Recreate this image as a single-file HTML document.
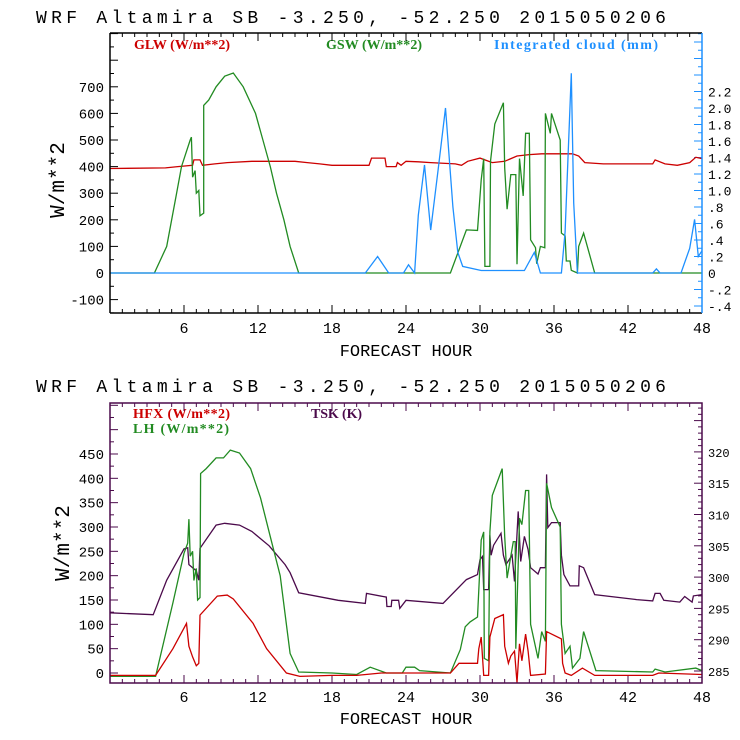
<!DOCTYPE html>
<html><head><meta charset="utf-8"><style>
html,body{margin:0;padding:0;background:#fff}
svg{display:block}
text{font-family:"Liberation Mono",monospace}
.lg{font-family:"Liberation Serif",serif;font-weight:bold;font-size:14px}
</style></head><body>
<svg id="c" width="740" height="740" viewBox="0 0 740 740" xmlns="http://www.w3.org/2000/svg">
<text x="36" y="23" font-size="18" font-weight="normal" textLength="630">WRF  Altamira  SB  -3.250, -52.250  2015050206</text>
<text x="36" y="392" font-size="18" font-weight="normal" textLength="630">WRF  Altamira  SB  -3.250, -52.250  2015050206</text>
<text class="lg" x="134" y="49" fill="#cc0000" textLength="96">GLW (W/m**2)</text>
<text class="lg" x="326" y="49" fill="#228b22" textLength="96">GSW (W/m**2)</text>
<text class="lg" x="494" y="49" fill="#1e90ff" textLength="164">Integrated cloud (mm)</text>
<text class="lg" x="133" y="418" fill="#cc0000" textLength="97">HFX (W/m**2)</text>
<text class="lg" x="133" y="433" fill="#228b22" textLength="96">LH  (W/m**2)</text>
<text class="lg" x="311" y="418" fill="#4b0a4b" textLength="51">TSK (K)</text>
<text x="406" y="356" font-size="17" text-anchor="middle">FORECAST HOUR</text>
<text x="406" y="724" font-size="17" text-anchor="middle">FORECAST HOUR</text>
<text transform="translate(64,180) rotate(-90)" font-size="21" text-anchor="middle">W/m**2</text>
<text transform="translate(69,543) rotate(-90)" font-size="21" text-anchor="middle">W/m**2</text>
<g id="g"></g>
</svg>
<script>
// ---- data ----
const xTicks=[6,12,18,24,30,36,42,48];
const topLeftTicks=[-100,0,100,200,300,400,500,600,700];
const topRightTicks=[-0.4,-0.2,0,0.2,0.4,0.6,0.8,1.0,1.2,1.4,1.6,1.8,2.0,2.2];
const topRightLabels=["-.4","-.2","0",".2",".4",".6",".8","1.0","1.2","1.4","1.6","1.8","2.0","2.2"];
const botLeftTicks=[0,50,100,150,200,250,300,350,400,450];
const botRightTicks=[285,290,295,300,305,310,315,320];

const glwHours=[0,4.5,5.5,6.7,6.8,7.3,7.5,8.5,9.5,11.5,15,16,17,18,21,21.2,22.3,22.4,23.2,23.3,23.6,24,25,26,28,28.5,29,30,31,32,33,34,35,37.5,38,38.5,40,44,44.2,45,46,47,47.5,48];
const glwValues=[393,395,400,405,425,425,405,410,415,420,420,415,410,405,405,432,432,400,400,415,405,420,418,415,410,405,420,432,415,420,440,445,448,448,440,415,410,410,425,410,405,415,435,430];

const gswHours=[0,3.6,4.6,5.4,5.8,6.5,6.6,6.7,6.9,7.0,7.2,7.3,7.6,7.6,8,8.6,9.3,10,10.8,11.8,12.4,13.0,13.5,14.1,14.6,15.3,27.6,28.9,29.8,30.1,30.3,30.4,30.8,30.85,31.2,31.9,32.0,32.2,32.5,32.9,33.0,33.2,33.5,33.7,34.0,34.1,34.5,34.6,34.9,35.25,35.3,35.7,35.8,36.5,36.6,36.9,37.0,37.3,37.4,37.9,38.0,38.4,39.3,48];
const gswValues=[0,0,100,300,400,500,511,360,385,300,310,215,225,630,650,700,740,752,700,600,500,400,300,200,100,0,0,162,160,350,430,25,25,420,560,640,395,240,370,370,33,430,290,525,525,125,95,35,100,95,600,525,600,500,150,140,45,45,10,0,100,150,0,0];

const cloudHours=[0,20.7,21.7,22.6,23.8,24.2,24.7,25.0,25.5,26.0,26.6,27.2,27.8,28.2,28.6,30.1,33.6,34.4,34.9,36.6,36.9,37.4,37.6,37.9,44.0,44.3,44.6,46.3,47.0,47.4,47.7,48];
const cloudValues=[0,0,0.2,0,0,0.1,0,0.7,1.31,0.52,1.25,2.0,0.8,0.25,0.08,0.03,0.03,0.25,0,0,0.5,2.42,0.85,0,0,0.05,0,0,0.3,0.65,0.2,0.27];

const hfxHours=[0,3.7,5.1,6.2,6.4,6.7,7.0,7.2,7.3,8.7,9.5,10.0,11.6,12.7,14.3,15.4,18,20,22,27.6,28.3,29.8,29.9,30.1,30.3,30.7,30.8,31.2,31.9,32.0,32.3,32.5,32.8,33.0,33.2,33.4,33.7,33.9,34.1,35.3,35.4,36.6,36.7,36.9,37.4,38.3,39.3,44,44.5,48];
const hfxValues=[-5,-5,50,102,55,33,15,20,119,158,160,152,102,50,0,-7,-5,-5,0,0,20,20,50,74,-5,-5,74,112,120,55,20,35,45,-20,60,25,80,45,-5,-2,85,70,20,0,-5,10,-5,-5,0,-3];

const lhHours=[0,3.7,5.1,6.0,6.3,6.4,6.5,6.7,6.8,7.0,7.1,7.3,7.35,7.8,8.6,9.2,9.75,10.5,11.4,12.2,13.0,13.8,14.6,15.3,18,20,21.1,22.4,23.7,24.0,24.7,25.1,27.6,28.4,28.8,29.2,29.8,30.1,30.3,30.35,30.7,30.8,31.0,31.8,32.0,32.2,32.7,32.85,32.9,33.2,33.4,33.7,33.95,34.1,34.7,35.0,35.3,35.4,35.8,36.5,36.6,36.9,37.3,37.5,38.1,38.4,39.4,44,44.2,45,47.5,48];
const lhValues=[-7,-7,144,246,267,316,240,250,190,215,150,155,410,420,442,442,458,452,420,360,280,200,40,2,0,-3,12,0,0,12,12,5,0,48,95,105,115,273,290,30,25,290,365,420,280,195,270,270,50,318,305,375,375,100,30,85,65,390,340,300,100,40,55,10,30,85,5,2,8,2,10,5];

const tskHours=[0,3.5,4.6,6.0,6.3,6.4,6.7,7.0,7.2,7.3,8.6,9.3,10.5,11.5,12.9,14.2,14.6,15.3,18.5,20.7,20.8,22.4,22.45,22.8,22.85,23.4,23.5,24.0,27.0,28.9,29.8,30.0,30.2,30.3,30.7,30.8,30.9,31.1,31.7,31.9,32.1,32.6,32.8,33.1,33.3,33.6,33.9,34.1,34.7,34.9,35.3,35.4,35.5,35.8,36.5,36.6,36.8,37.3,38.0,38.05,38.4,39.3,42.7,44.0,44.2,44.6,44.9,46.2,46.6,47.2,47.3,48];
const tskValues=[294.3,294,299.5,304.5,304.7,302,301.5,301,299.5,304.6,308.3,308.6,308.3,307.3,305,302,300.7,297.5,296.3,295.8,297.4,296.8,295.3,295.3,296.3,296.3,295,296.3,295.8,299.6,300.4,302.8,303.3,298,298,306.7,303.5,305.1,307,303.5,302,303.5,299.3,310.5,302.5,306.5,304.4,301.5,300.5,301.5,301.5,316.4,307.9,308.7,308.7,303.5,300.4,298.6,298.6,301.8,301.5,297.2,296.4,296.2,297.4,297.4,296.3,296,296.9,296,297,297.2];

// ---- geometry ----
const X0=110,X1=702;
const xs=h=>X0+(X1-X0)*h/48;
const T={top:33,bot:313};
const yTL=v=>273-v*0.266;
const yTR=v=>273-v*82.5;
const B={top:403,bot:683};
const yBL=v=>673-v*0.4867;
const yBR=v=>671-(v-285)*6.26;
const NS='http://www.w3.org/2000/svg';
const g=document.getElementById('g');
function mk(tag,attrs){const e=document.createElementNS(NS,tag);for(const k in attrs)e.setAttribute(k,attrs[k]);g.appendChild(e);return e;}
function clip(id,y0,y1){const c=document.createElementNS(NS,'clipPath');c.setAttribute('id',id);const r=document.createElementNS(NS,'rect');r.setAttribute('x',X0);r.setAttribute('y',y0);r.setAttribute('width',X1-X0);r.setAttribute('height',y1-y0);c.appendChild(r);g.appendChild(c);}
clip('ct',T.top,T.bot);clip('cb',B.top,B.bot);
function series(hours,vals,ys,color,name,cl){
  const pts=hours.map((h,i)=>xs(h).toFixed(1)+','+ys(vals[i]).toFixed(1)).join(' ');
  const p=mk('polyline',{points:pts,fill:'none',stroke:color,'stroke-width':1.3,'clip-path':'url(#'+cl+')'});
  
  
}
function line(x1,y1,x2,y2,c,w){return mk('line',{x1:x1,y1:y1,x2:x2,y2:y2,stroke:c,'stroke-width':w||1});}
function txt(x,y,s,anchor,size,name){const t=mk('text',{x:x,y:y,'font-size':size||13,'text-anchor':anchor});t.textContent=s;
  
  
  return t;}

function xAxis(P,col,labY){
  for(let h=1;h<48;h++){const L=(h%6==0)?8:4;const x=xs(h);
    line(x,P.bot,x,P.bot-L,col);line(x,P.top,x,P.top+L,col);}
  xTicks.forEach(h=>txt(xs(h),labY,String(h),'middle',15,'x-tick-label'));
}
// ---- top panel ----
xAxis(T,'#000',333);
for(let v=-150;v<=900;v+=50){const y=yTL(v);if(y<T.top||y>T.bot)continue;line(X0,y,X0+(v%100==0?8:4),y,'#000');}
topLeftTicks.forEach(v=>txt(104,yTL(v)+5,String(v),'end',14,'top-left-tick-label'));
for(let i=-4;i<=29;i++){const v=i/10,y=yTR(v);if(y<T.top||y>T.bot)continue;line(X1,y,X1-(i%2==0?8:4),y,'#1e90ff');}
topRightTicks.forEach((v,i)=>txt(708,yTR(v)+5,topRightLabels[i],'start',13,'top-right-tick-label'));
series(glwHours,glwValues,yTL,'#cc0000','glw-line','ct');
series(gswHours,gswValues,yTL,'#228b22','gsw-line','ct');
series(cloudHours,cloudValues,yTR,'#1e90ff','cloud-line','ct');
line(X0,T.top,X1,T.top,'#000',1.5);line(X0,T.bot,X1,T.bot,'#000',1.5);line(X0,T.top,X0,T.bot,'#000',1.5);
line(X1,T.top,X1,T.bot,'#1e90ff',1.5);
// ---- bottom panel ----
const pur='#4b0a4b';
xAxis(B,pur,702);
for(let v=-25;v<=575;v+=25){const y=yBL(v);if(y<B.top||y>B.bot)continue;line(X0,y,X0+(v%50==0?8:4),y,pur);}
botLeftTicks.forEach(v=>txt(104,yBL(v)+5,String(v),'end',14,'bottom-left-tick-label'));
for(let v=284;v<=330;v++){const y=yBR(v);if(y<B.top||y>B.bot)continue;line(X1,y,X1-(v%5==0?8:4),y,pur);}
botRightTicks.forEach(v=>txt(708,yBR(v)+5,String(v),'start',12,'bottom-right-tick-label'));
series(tskHours,tskValues,yBR,pur,'tsk-line','cb');
series(lhHours,lhValues,yBL,'#228b22','lh-line','cb');
series(hfxHours,hfxValues,yBL,'#cc0000','hfx-line','cb');
const fr=mk('rect',{x:X0,y:B.top,width:X1-X0,height:B.bot-B.top,fill:'none',stroke:pur,'stroke-width':1.5});


</script>
</body></html>
